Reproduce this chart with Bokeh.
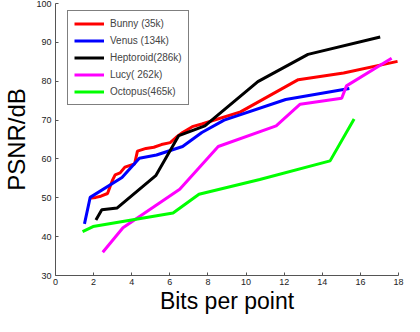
from bokeh.plotting import figure
from bokeh.models import Legend, LegendItem, Range1d, FixedTicker
from bokeh.embed import file_html
from bokeh.resources import INLINE

# Data
bunny_x = [1.77, 2.12, 2.38, 2.73, 2.98, 3.13, 3.39, 3.64, 4.15, 4.30, 4.75, 5.16, 5.56, 6.02, 6.32, 6.67, 7.18, 7.68, 9.71, 12.74, 15.12, 17.95]
bunny_y = [49.9, 50.1, 50.4, 51.1, 54.4, 55.9, 56.4, 57.9, 58.7, 62.0, 62.7, 63.0, 63.7, 64.2, 65.5, 66.8, 68.3, 69.0, 72.1, 80.4, 82.1, 85.1]

venus_x = [1.52, 1.82, 3.49, 4.40, 5.30, 6.67, 7.68, 8.85, 12.08, 15.42]
venus_y = [43.3, 50.1, 55.2, 60.2, 61.0, 63.2, 66.8, 70.0, 75.3, 78.1]

hepto_x = [2.12, 2.43, 3.24, 5.26, 6.47, 7.84, 10.62, 13.25, 17.04]
hepto_y = [44.3, 46.9, 47.4, 55.7, 66.0, 68.5, 79.9, 86.9, 91.4]

lucy_x = [2.48, 3.54, 6.52, 8.54, 11.58, 12.84, 15.02, 15.27, 17.64]
lucy_y = [36.0, 42.3, 52.2, 63.2, 68.5, 74.1, 75.6, 78.8, 85.9]

octo_x = [1.42, 1.97, 6.17, 7.53, 10.72, 14.41, 15.67]
octo_y = [41.3, 42.6, 46.1, 50.9, 54.7, 59.5, 70.3]

labels = ["Bunny (35k)", "Venus (134k)", "Heptoroid(286k)", "Lucy( 262k)", "Octopus(465k)"]
colors = ["#ff0000", "#0000ff", "#000000", "#ff00ff", "#00ff00"]

x_ticks = [0, 2, 4, 6, 8, 10, 12, 14, 16, 18]
y_ticks = [30, 40, 50, 60, 70, 80, 90, 100]

FONT = "Liberation Sans"

p = figure(width=404, height=316, output_backend="svg", toolbar_location=None,
           x_range=Range1d(0, 18), y_range=Range1d(30, 100),
           min_border_left=49, min_border_right=6, min_border_top=3, min_border_bottom=38)
p.xgrid.visible = False
p.ygrid.visible = False
p.outline_line_color = None
p.background_fill_color = "white"

series = [(bunny_x, bunny_y), (venus_x, venus_y), (hepto_x, hepto_y), (lucy_x, lucy_y), (octo_x, octo_y)]
items = []
for (xs, ys), c, lab in zip(series, colors, labels):
    r = p.line(xs, ys, line_color=c, line_width=3)
    items.append(LegendItem(label=lab, renderers=[r]))

for ax in (p.xaxis[0], p.yaxis[0]):
    ax.axis_line_color = "#555555"
    ax.major_tick_line_color = "#555555"
    ax.major_tick_in = 3
    ax.major_tick_out = 0
    ax.minor_tick_line_color = None
    ax.major_label_text_font = FONT
    ax.major_label_text_font_size = "9px"
    ax.major_label_text_color = "#222222"
    ax.axis_label_text_font = FONT
    ax.axis_label_text_font_style = "normal"
    ax.axis_label_text_color = "#000000"

p.xaxis.axis_label_text_font_size = "23px"
p.yaxis.axis_label_text_font_size = "24px"
p.xaxis.ticker = FixedTicker(ticks=x_ticks)
p.yaxis.ticker = FixedTicker(ticks=y_ticks)
p.xaxis.axis_label = "Bits per point"
p.yaxis.axis_label = "PSNR/dB"
p.xaxis.major_label_standoff = 3
p.yaxis.major_label_standoff = 4
p.xaxis.axis_label_standoff = 0
p.yaxis.axis_label_standoff = 3

legend = Legend(items=items, location=(12, 170))
legend.border_line_color = "black"
legend.border_line_width = 1
legend.label_text_font = FONT
legend.label_text_font_size = "10px"
legend.glyph_width = 30
legend.glyph_height = 13
legend.label_height = 13
legend.spacing = 4
legend.padding = 6
legend.label_standoff = 6
legend.margin = 0
legend.background_fill_alpha = 1
p.add_layout(legend)

open("out.html", "w").write(file_html(p, INLINE))
